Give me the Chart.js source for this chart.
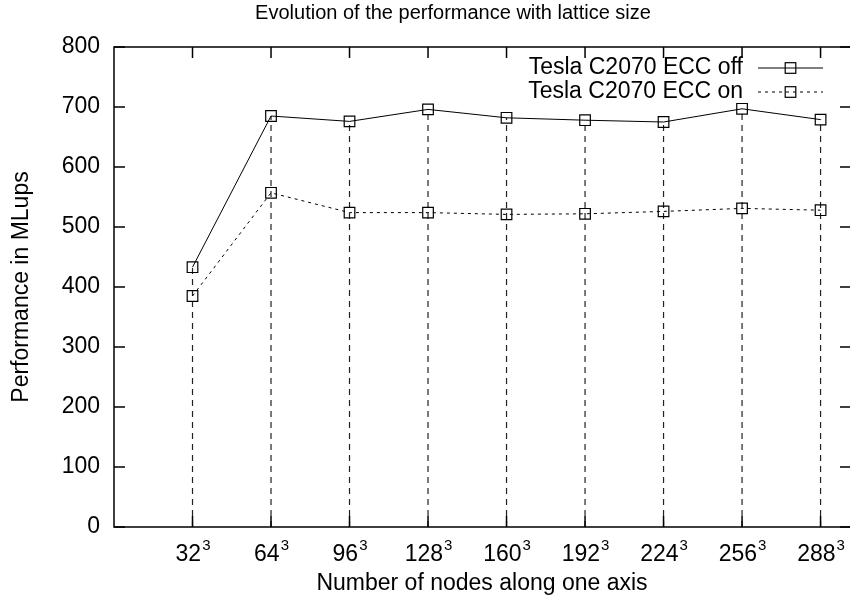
<!DOCTYPE html>
<html>
<head>
<meta charset="utf-8">
<script src="https://cdn.jsdelivr.net/npm/chart.js@4"></script>
<style>
html,body{margin:0;padding:0;background:#fff}
#wrap{width:850px;height:600px}
</style>
</head>
<body>
<div id="wrap"><canvas id="perfChart" width="850" height="600"></canvas></div>
<script>
// lattice sizes (edge length, shown as n^3)
const sizes = [32, 64, 96, 128, 160, 192, 224, 256, 288];
const eccOff = [433, 685, 676, 696, 682, 678, 675, 697, 679];
const eccOn = [385, 557, 524, 524, 521, 522, 526, 531, 528];
const yTicks = [0, 100, 200, 300, 400, 500, 600, 700, 800];
const seriesNames = ["Tesla C2070 ECC off", "Tesla C2070 ECC on"];
const chartTitle = "Evolution of the performance with lattice size";
const xTitle = "Number of nodes along one axis";
const yTitle = "Performance in MLups";

const FONT = "'Liberation Sans', Arial, Helvetica, sans-serif";

function pts(ys){ return sizes.map((s,i)=>({x:s, y:ys[i]})); }

// dashed drops from the ECC off points to the axis
function impulses(){
    let d = [];
    sizes.forEach((s,i)=>{
        d.push({x:s, y:0});
        d.push({x:s, y:eccOff[i]});
        d.push({x:s, y:NaN});
    });
    return d;
}

function sample(ctx, x0, x1, y, dash){
    ctx.save();
    ctx.strokeStyle = "#000";
    ctx.lineWidth = 1;
    ctx.setLineDash(dash);
    ctx.beginPath(); ctx.moveTo(x0, y); ctx.lineTo(x1, y); ctx.stroke();
    ctx.setLineDash([]);
    ctx.lineWidth = 1.2;
    const m = (x0+x1)/2;
    ctx.strokeRect(m-5.3, y-5.3, 10.6, 10.6);
    ctx.restore();
}

const frame = {
    id: "frame",
    afterDraw(chart){
        const ctx = chart.ctx, ca = chart.chartArea;
        const xs = chart.scales.x, ys = chart.scales.y;
        ctx.save();
        ctx.strokeStyle = "#000";
        ctx.lineWidth = 1.5;
        // border: right side falls just outside the picture
        ctx.beginPath();
        ctx.moveTo(ca.right, ca.top); ctx.lineTo(ca.left, ca.top);
        ctx.lineTo(ca.left, ca.bottom); ctx.lineTo(ca.right, ca.bottom);
        ctx.stroke();
        ctx.beginPath();
        yTicks.forEach(v=>{
            const py = ys.getPixelForValue(v);
            ctx.moveTo(ca.left, py); ctx.lineTo(ca.left+11, py);
            ctx.moveTo(ca.right, py); ctx.lineTo(ca.right-10, py);
        });
        sizes.forEach(s=>{
            const px = xs.getPixelForValue(s);
            ctx.moveTo(px, ca.bottom); ctx.lineTo(px, ca.bottom-11);
            ctx.moveTo(px, ca.top); ctx.lineTo(px, ca.top+11);
        });
        ctx.stroke();

        // x tick labels with superscript 3
        ctx.fillStyle = "#000";
        ctx.textBaseline = "alphabetic";
        ctx.textAlign = "left";
        sizes.forEach(s=>{
            const px = xs.getPixelForValue(s);
            const base = String(s), sup = "3";
            ctx.font = "23px " + FONT;
            const wb = ctx.measureText(base).width;
            ctx.font = "15px " + FONT;
            const wsup = ctx.measureText(sup).width;
            const x0 = px - (wb + wsup)/2;
            ctx.font = "23px " + FONT;
            ctx.fillText(base, x0, ca.bottom + 34);
            ctx.font = "15px " + FONT;
            ctx.fillText(sup, x0 + wb + 1, ca.bottom + 23);
        });

        // title
        ctx.font = "20px " + FONT;
        ctx.textAlign = "center";
        ctx.textBaseline = "middle";
        ctx.fillText(chartTitle, 453, 13);

        // legend (gnuplot style: text then sample)
        ctx.font = "23px " + FONT;
        ctx.textAlign = "right";
        const rows = [ca.top + 21, ca.top + 45];
        ctx.fillText(seriesNames[0], ca.right - 107, rows[0]);
        ctx.fillText(seriesNames[1], ca.right - 107, rows[1]);
        ctx.restore();
        sample(ctx, ca.right - 92, ca.right - 27, rows[0], []);
        sample(ctx, ca.right - 92, ca.right - 27, rows[1], [3, 4]);
    }
};

new Chart(document.getElementById("perfChart").getContext("2d"), {
    type: "line",
    data: {
        datasets: [
            { label: seriesNames[0], data: pts(eccOff), borderColor: "#000", borderWidth: 1,
              pointStyle: "rect", pointRadius: 7.5, pointBorderWidth: 1.2,
              pointBorderColor: "#000", pointBackgroundColor: "rgba(0,0,0,0)", order: 1 },
            { label: seriesNames[1], data: pts(eccOn), borderColor: "#000", borderWidth: 1,
              borderDash: [3, 4], pointStyle: "rect", pointRadius: 7.5, pointBorderWidth: 1.2,
              pointBorderColor: "#000", pointBackgroundColor: "rgba(0,0,0,0)", order: 2 },
            { label: "drops", data: impulses(), borderColor: "#222", borderWidth: 1.2,
              borderDash: [6, 5], pointRadius: 0, spanGaps: false, order: 3 }
        ]
    },
    options: {
        responsive: false,
        animation: false,
        layout: { autoPadding: false, padding: { top: 47, right: 0, left: 0, bottom: 0 } },
        plugins: { legend: { display: false }, title: { display: false }, tooltip: { enabled: false } },
        scales: {
            x: {
                type: "linear", min: 0, max: 300,
                grid: { display: false, drawTicks: false }, border: { display: false },
                ticks: { display: false },
                title: { display: true, text: xTitle, color: "#000",
                         font: { family: FONT, size: 23 }, padding: { bottom: 3, top: 0 } },
                afterFit: s => { s.height = 73; }
            },
            y: {
                min: 0, max: 800,
                grid: { display: false, drawTicks: false }, border: { display: false },
                ticks: { stepSize: 100, padding: 14, color: "#000", font: { family: FONT, size: 23 } },
                title: { display: true, text: yTitle, color: "#000",
                         font: { family: FONT, size: 23 }, padding: { top: 8, bottom: 0 } },
                afterFit: s => { s.width = 114; }
            }
        }
    },
    plugins: [frame]
});
</script>
</body>
</html>
